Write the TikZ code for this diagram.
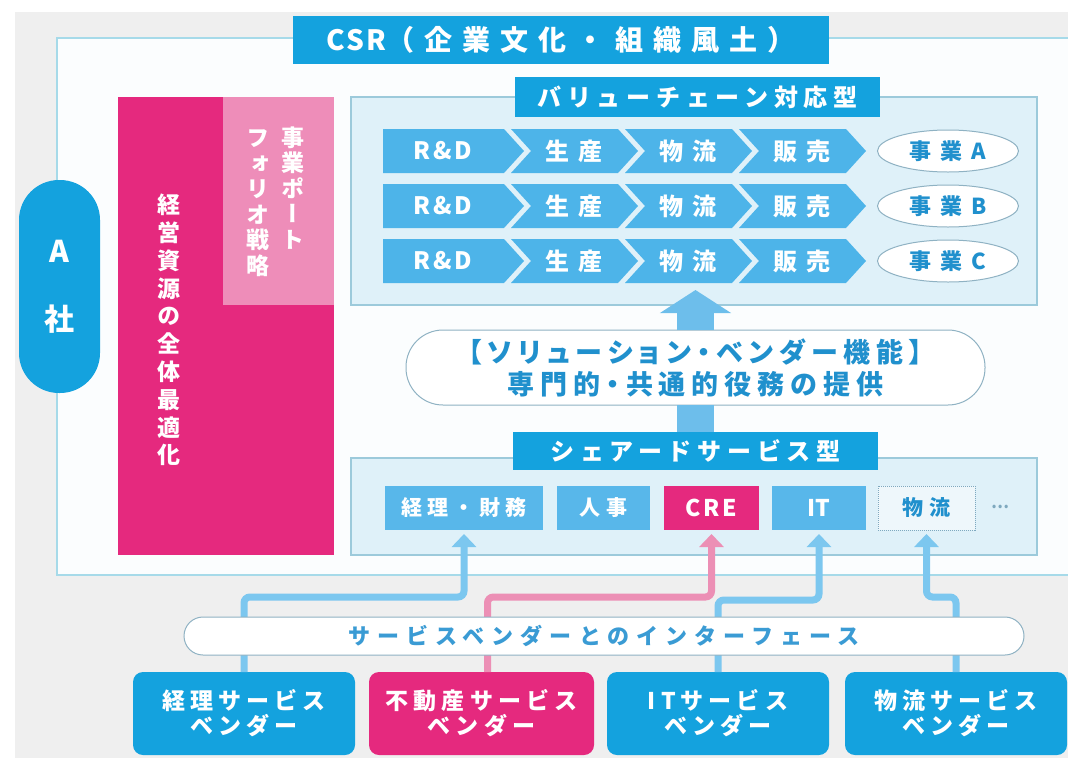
\documentclass[tikz,border=0pt]{standalone}
\usepackage{fontspec}
\setmainfont{Noto Sans CJK JP}
\newfontfamily\jpv{Noto Sans CJK JP}[RawFeature=+vert]
\newfontfamily\jpp{Noto Sans CJK JP}[RawFeature=+palt]
\usetikzlibrary{arrows.meta,shapes.geometric}
\definecolor{mainblue}{HTML}{14A2DE}
\definecolor{chevblue}{HTML}{4DB4E9}
\definecolor{itemblue}{HTML}{58B7EA}
\definecolor{panelfill}{HTML}{DFF1F9}
\definecolor{panelline}{HTML}{9CCADB}
\definecolor{mag}{HTML}{E5297E}
\definecolor{lpink}{HTML}{EE8DB9}
\definecolor{pinkline}{HTML}{EC8FB5}
\definecolor{connblue}{HTML}{7CC7EF}
\definecolor{bigblue}{HTML}{6DBEEB}
\definecolor{bggray}{HTML}{EFEFEF}
\definecolor{outerline}{HTML}{A6DAE9}
\definecolor{outerfill}{HTML}{FBFDFE}
\definecolor{txtblue}{HTML}{2090CD}
\definecolor{txtblue2}{HTML}{3A9BD4}
\definecolor{ovalline}{HTML}{8FB2C3}
\definecolor{dotgray}{HTML}{7FA9BF}
\definecolor{btrfill}{HTML}{EEF7FB}
\tikzset{
  base/.style={inner sep=0pt, outer sep=0pt},
  nw/.style={anchor=north west},
  titlebox/.style={base, nw, fill=mainblue, text=white,
    font=\bfseries\fontsize{24}{24}\selectfont\addfontfeatures{LetterSpace=24}},
  panel/.style={base, nw, fill=panelfill, draw=panelline, line width=1.5pt},
  chevtext/.style={base, text=white,
    font=\bfseries\fontsize{24}{24}\selectfont\addfontfeatures{LetterSpace=40}},
  bizell/.style={base, ellipse, draw=ovalline, line width=1pt, fill=white,
    minimum width=141pt, minimum height=42pt, text=txtblue,
    font=\bfseries\fontsize{22}{22}\selectfont\addfontfeatures{LetterSpace=40}},
  vtext/.style={base, text=white, align=center},
  item/.style={base, nw, fill=itemblue, minimum height=44pt, text=white,
    font=\bfseries\fontsize{21}{21}\selectfont\addfontfeatures{LetterSpace=24}},
  vendor/.style={base, nw, rounded corners=10pt, minimum width=222pt,
    minimum height=83pt, text=white, align=center,
    font=\bfseries\fontsize{23}{25}\selectfont\addfontfeatures{LetterSpace=22}},
  conn/.style={line width=7pt, draw=connblue, rounded corners=6pt,
    -{Triangle[width=24pt,length=13pt]}, shorten >=4pt},
}
\begin{document}
\begin{tikzpicture}[x=1pt,y=-1pt]
\useasboundingbox (0,0) rectangle (1068,758);
\fill[white] (0,0) rectangle (1068,758);
\fill[bggray] (15,12) rectangle (1068,758);
\draw[outerline, line width=1.5pt, fill=outerfill] (57,38) rectangle (1090,575);

% CSR title
\node[titlebox, minimum width=536pt, minimum height=48pt,
  font=\bfseries\fontsize{28}{28}\selectfont\addfontfeatures{LetterSpace=36}] (csr) at (293,16)
  {{\addfontfeatures{LetterSpace=8}CSR}（企業文化・組織風土）};

% A社
\node[base, nw, fill=mainblue, rounded corners=40pt, minimum width=81pt,
  minimum height=213pt, text=white, align=center,
  font=\bfseries\fontsize{30}{68}\selectfont] (asha) at (19,180) {A\\社};

% pink blocks
\node[base, nw, fill=mag, minimum width=216pt, minimum height=458pt] (keiei) at (118,97) {};
\node[base, nw, fill=lpink, minimum width=111pt, minimum height=208pt] (pf) at (223,97) {};
\node[vtext, font=\jpv\bfseries\fontsize{23}{27.8}\selectfont] (keieitxt) at (169,330)
  {経\\営\\資\\源\\の\\全\\体\\最\\適\\化};
\node[vtext, font=\jpv\bfseries\fontsize{23}{25.5}\selectfont] (pftxta) at (293,188)
  {事\\業\\ポ\\ー\\ト};
\node[vtext, font=\jpv\bfseries\fontsize{23}{25.5}\selectfont] (pftxtb) at (258,203)
  {フ\\ォ\\リ\\オ\\戦\\略};

% value chain panel
\node[panel, minimum width=686pt, minimum height=208pt] (vc) at (351,97) {};
\node[titlebox, minimum width=365pt, minimum height=40pt] (vct) at (515,77) {バリューチェーン対応型};

\foreach \r/\yt/\L in {1/129/A, 2/184/B, 3/239/C} {
  \fill[chevblue] (383,\yt) -- (504,\yt) -- (524,\yt+22) -- (504,\yt+44) -- (383,\yt+44) -- cycle;
  \foreach \a in {511,625,739} {
    \fill[chevblue] (\a,\yt) -- (\a+107,\yt) -- (\a+127,\yt+22) -- (\a+107,\yt+44)
      -- (\a,\yt+44) -- (\a+20,\yt+22) -- cycle;
  }
  \node[chevtext, font=\bfseries\fontsize{24}{24}\selectfont\addfontfeatures{LetterSpace=12}] (rd\r) at (443,\yt+22) {R\&D};
  \node[chevtext] (sei\r) at (574,\yt+22) {生産};
  \node[chevtext] (bu\r) at (688,\yt+22) {物流};
  \node[chevtext] (han\r) at (802,\yt+22) {販売};
  \node[bizell] (biz\r) at (948,\yt+22) {事業\L};
}

% solution vendor function
\node[base, nw, draw=ovalline, line width=1pt, fill=white, rounded corners=37pt,
  minimum width=579pt, minimum height=75pt, align=center, text=txtblue,
  font=\jpp\bfseries\fontsize{27}{32}\selectfont\addfontfeatures{LetterSpace=22}] (sol) at (406,330)
  {【ソリューション・ベンダー機能】\\専門的・共通的役務の提供};

% shared services panel
\node[panel, minimum width=686pt, minimum height=97pt] (ss) at (351,458) {};
\node[titlebox, minimum width=365pt, minimum height=38pt] (sst) at (513,432) {シェアードサービス型};
\node[item, minimum width=158pt] (keiri) at (385,486) {経理・財務};
\node[item, minimum width=93pt] (jinji) at (557,486) {人事};
\node[item, fill=mag, minimum width=95pt,
  font=\bfseries\fontsize{23}{23}\selectfont\addfontfeatures{LetterSpace=12}] (cre) at (664,486) {CRE};
\node[item, minimum width=94pt,
  font=\bfseries\fontsize{23}{23}\selectfont] (it) at (772,486) {IT};
\node[item, fill=btrfill, draw=dotgray, densely dotted, line width=1pt, text=txtblue,
  minimum width=97pt] (btr) at (878,486) {物流};
\node[base, text=dotgray, font=\bfseries\fontsize{16}{16}\selectfont] (more) at (1000,507) {…};

% big arrows
\draw[bigblue, line width=37pt] (sst.north -| sol.south) -- (sol.south);
\draw[bigblue, line width=37pt, -{Triangle[width=70pt,length=23pt]}]
  (sol.north) -- ([yshift=15pt]sol.north |- vc.south);

% vendors
\node[vendor, fill=mainblue] (v1) at (133,672) {経理サービス\\ベンダー};
\node[vendor, fill=mag, minimum width=225pt] (v2) at (369,672) {不動産サービス\\ベンダー};
\node[vendor, fill=mainblue] (v3) at (607,672) {ITサービス\\ベンダー};
\node[vendor, fill=mainblue] (v4) at (845,672) {物流サービス\\ベンダー};

% connectors
\draw[conn] (v1.north) -- ++(0,-75) -| (keiri.south);
\draw[conn, draw=pinkline] ([xshift=6pt]v2.north) -- ++(0,-75) -| (cre.south);
\draw[conn] (v3.north) -- ++(0,-72) -| (it.south);
\draw[conn] (v4.north) -- ++(0,-75) -| (btr.south);

% interface bar
\node[base, nw, draw=ovalline, line width=1pt, fill=white, rounded corners=19pt,
  minimum width=840pt, minimum height=38pt, text=txtblue2,
  font=\bfseries\fontsize{22}{22}\selectfont\addfontfeatures{LetterSpace=32}] (ifc) at (184,617)
  {サービスベンダーとのインターフェース};
\end{tikzpicture}
\end{document}
